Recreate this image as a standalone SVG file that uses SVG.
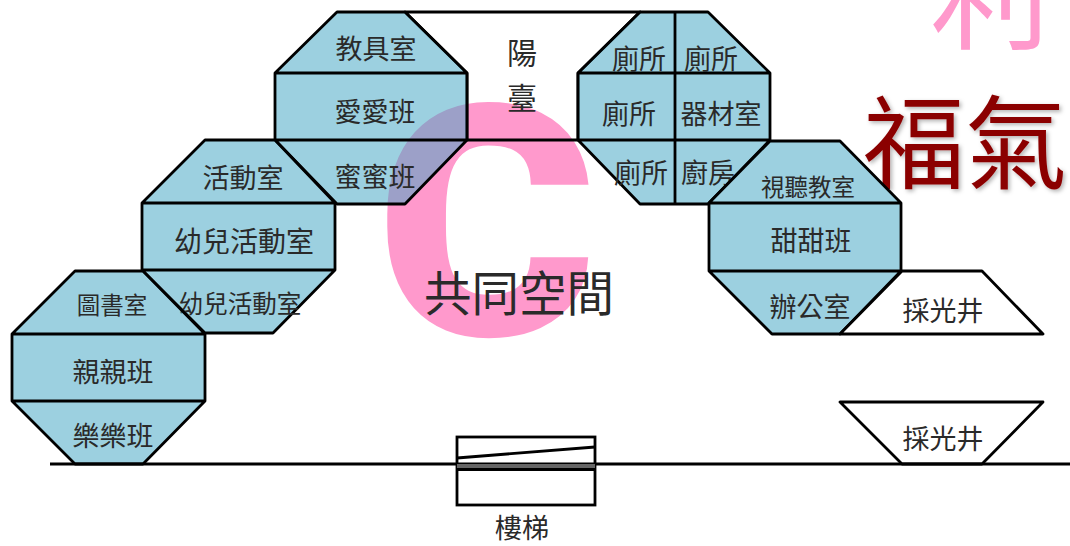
<svg xmlns="http://www.w3.org/2000/svg" width="1070" height="546" viewBox="0 0 1070 546">
<style>
text{font-family:"Noto Sans CJK TC","Noto Sans CJK SC",sans-serif;text-anchor:middle;fill:#2a2a2a}
.room{fill:#44A6C4;fill-opacity:.53;stroke:none}
.line{fill:none;stroke:#000;stroke-width:2.8;stroke-linejoin:round}
.open{fill:#fff;stroke:#000;stroke-width:2.8;stroke-linejoin:round}
.l27{font-size:27px}.l24{font-size:23.5px}
</style>
<defs><filter id="sh" x="-10%" y="-10%" width="125%" height="125%"><feDropShadow dx="2" dy="2" stdDeviation="2" flood-color="#000" flood-opacity=".3"/></filter></defs>
<rect width="1070" height="546" fill="#fff"/>
<g id="deco">
<text x="990" y="40" style="font-size:120px;fill:#ff99cc">利</text>
<text transform="translate(486.500 335) scale(1.045 1)" style="font-family:Roboto,sans-serif;font-weight:900;font-size:323px;fill:#ff99cc">C</text>
<text x="965" y="181" style="font-size:102px;fill:#8b0000" filter="url(#sh)">福氣</text>
</g>
<g id="terrace">
<path class="line" d="M405 12H640L578 73V140H467V73Z"/>
<text x="522" y="64" style="font-size:30px">陽</text>
<text x="522" y="109" style="font-size:30px">臺</text>
</g>
<g id="hex-a">
<path class="room" d="M337 12H405L467 73V140L405 204H337L275 140V73Z"/>
<path class="line" d="M337 12H405L467 73V140L405 204H337L275 140V73ZM275 73H467M275 140H467"/>
<text class="l27" x="376" y="59">教具室</text>
<text class="l27" x="375" y="122">愛愛班</text>
<text class="l27" x="375" y="187">蜜蜜班</text>
</g>
<g id="hex-b">
<path class="room" d="M205 140H275L335 203V270L273 333H205L142 270V203Z"/>
<path class="line" d="M205 140H275L335 203V270L273 333H205L142 270V203ZM142 203H335M142 270H335"/>
<text class="l27" x="243" y="188">活動室</text>
<text x="244" y="252" style="font-size:28px">幼兒活動室</text>
<text x="240" y="313" style="font-size:24.500px">幼兒活動室</text>
</g>
<g id="hex-c">
<path class="room" d="M75 271H143L205 334V401L143 464H75L12 401V334Z"/>
<path class="line" d="M75 271H143L205 334V401L143 464H75L12 401V334ZM12 334H205M12 401H205"/>
<text class="l24" x="112" y="314">圖書室</text>
<text class="l27" x="113" y="382">親親班</text>
<text class="l27" x="113" y="446">樂樂班</text>
</g>
<g id="hex-d">
<path class="room" d="M640 12H708L770 73V140L708 204H640L578 140V73Z"/>
<path class="line" d="M640 12H708L770 73V140L708 204H640L578 140V73ZM578 73H770M578 140H770M675 12V204"/>
<text class="l27" x="639" y="69">廁所</text>
<text class="l27" x="711" y="69">廁所</text>
<text class="l27" x="629" y="124">廁所</text>
<text class="l27" x="721" y="124">器材室</text>
<text class="l27" x="641" y="183">廁所</text>
<text class="l27" x="708" y="183">廚房</text>
</g>
<g id="hex-e">
<path fill="#fff" d="M770 141H840L901 203V271L840 334H772L709 271V203Z"/>
<path class="room" d="M770 141H840L901 203V271L840 334H772L709 271V203Z"/>
<path class="line" d="M770 141H840L901 203V271L840 334H772L709 271V203ZM709 203H901M709 271H901"/>
<text class="l24" x="808" y="196">視聽教室</text>
<text class="l27" x="811" y="251">甜甜班</text>
<text class="l27" x="810" y="317">辦公室</text>
</g>
<g id="well-top">
<path class="open" d="M840 334L902 271H982L1043 334Z"/>
<text class="l27" x="943" y="321">採光井</text>
</g>
<g id="well-bottom">
<path class="open" d="M840 402H1043L982 464H902Z"/>
<text class="l27" x="943" y="449">採光井</text>
</g>
<g id="common"><text x="519" y="311" style="font-size:47.500px">共同空間</text></g>
<g id="connectors"><path class="line" d="M50 464H1070"/></g>
<g id="stairs">
<rect x="457" y="437" width="138" height="68" fill="none" stroke="#000" stroke-width="2.8"/>
<path d="M457 458L595 447" class="line"/>
<rect x="457" y="464" width="138" height="5" fill="#666"/>
<path class="line" d="M457 469.500H595"/>
<text class="l27" x="522" y="538">樓梯</text>
</g>
</svg>
